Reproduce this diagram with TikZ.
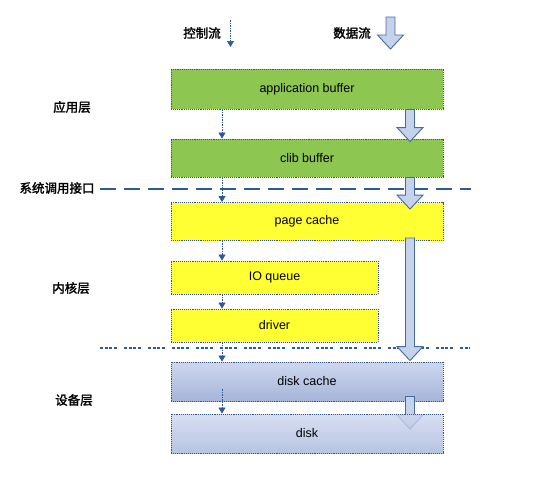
\documentclass[tikz,border=0pt]{standalone}
\usepackage{fontspec}
\setmainfont{Liberation Sans}
\newfontfamily\cjk{Noto Sans CJK SC}[AutoFakeBold=2]
\usetikzlibrary{arrows.meta,calc}
\definecolor{gboxfill}{RGB}{141,198,80}
\definecolor{yboxfill}{RGB}{255,255,51}
\definecolor{btop}{RGB}{206,215,239}
\definecolor{bbot}{RGB}{165,181,217}
\definecolor{boxline}{RGB}{52,86,135}
\definecolor{dfill}{RGB}{197,210,236}
\definecolor{dline}{RGB}{70,105,160}
\definecolor{ctrlc}{RGB}{45,90,150}
\tikzset{
  box/.style={draw=boxline, densely dotted, line width=0.9pt, inner sep=0pt,
    font=\fontsize{12.5}{14}\selectfont, text=black},
  gbox/.style={box, fill=gboxfill, minimum width=272pt},
  ybox/.style={box, fill=yboxfill},
  bbox/.style={box, top color=btop, bottom color=bbot, minimum width=272pt, minimum height=39pt},
  lay/.style={font=\cjk\bfseries\fontsize{12.5}{14}\selectfont},
  dflow/.style={fill=dfill, draw=dline, line width=0.9pt, line join=miter},
  ctrl/.style={draw=ctrlc, line width=0.7pt, dash pattern=on 1.5pt off 1pt,
    -{Triangle[width=7pt,length=6pt,fill=ctrlc]}},
  sepdash/.style={draw=ctrlc, line width=1.2pt, dash pattern=on 16pt off 8pt},
  sepdot/.style={draw=ctrlc, line width=1.1pt, dash pattern=on 3pt off 1.5pt on 3pt off 1.5pt on 3pt off 1.5pt on 3pt off 7.5pt},
}
\newcommand\dfarrow[2]{\path[dflow] let \p1=#1, \p2=#2 in
  (\x1-4.5pt,\y1) -- (\x1+4.5pt,\y1) -- (\x1+4.5pt,\y2+14pt) -- (\x1+13pt,\y2+14pt)
  -- (\x1,\y2) -- (\x1-13pt,\y2+14pt) -- (\x1-4.5pt,\y2+14pt) -- cycle;}
\begin{document}
\begin{tikzpicture}[x=1pt,y=-1pt]
\useasboundingbox (0,0) rectangle (540,480);
\coordinate (dx) at (410,0);
\coordinate (cx) at (222,0);
% layer separators
\coordinate (s1a) at (100,189); \coordinate (s1b) at (471,189);
\coordinate (s2a) at (100,348); \coordinate (s2b) at (470,348);
\draw[sepdash] (s1a) -- (s1b);
\draw[sepdot] (s2a) -- (s2b);
% boxes
\node[gbox, minimum height=40pt] (ab) at (307,89) {application buffer};
\node[gbox, minimum height=38pt] (cb) at (307,158) {clib buffer};
\node[ybox, minimum width=272pt, minimum height=38pt] (pc) at (307,221.5) {page cache};
\node[ybox, minimum width=207pt, minimum height=33pt] (io) at (274.5,277.5) {IO queue};
\node[ybox, minimum width=207pt, minimum height=33pt] (dr) at (274.5,325.5) {driver};
\node[bbox] (dc) at (307,381.5) {disk cache};
\coordinate (dktop) at (307,414);
\dfarrow{($(dc.south -| dx)+(0,-5)$)}{($(dktop -| dx)+(0,15)$)}
\node[bbox, fill opacity=0.8, text opacity=1] (dk) at (307,433.5) {disk};
% data flow arrows
\dfarrow{(ab.south -| dx)}{($(cb.north -| dx)+(0,3)$)}
\dfarrow{(cb.south -| dx)}{($(pc.north -| dx)+(0,7)$)}
\dfarrow{($(pc.south -| dx)+(0,-3)$)}{($(dc.north -| dx)+(0,-1)$)}
% control flow arrows
\draw[ctrl] (ab.south -| cx) -- (cb.north -| cx);
\draw[ctrl] (cb.south -| cx) -- (pc.north -| cx);
\draw[ctrl] (pc.south -| cx) -- (io.north -| cx);
\draw[ctrl] (io.south -| cx) -- (dr.north -| cx);
\draw[ctrl] (dr.south -| cx) -- (dc.north -| cx);
\draw[ctrl] ($(dc.south -| cx)+(0,-12)$) -- (dk.north -| cx);
% legend
\node[lay] (lc) at (202,33) {控制流};
\node[lay] (ld) at (352,33) {数据流};
\coordinate (lca) at (230.5,20); \coordinate (lcb) at (230.5,47);
\draw[ctrl] (lca) -- (lcb);
\coordinate (lda) at (390.5,17); \coordinate (ldb) at (390.5,49);
\dfarrow{(lda)}{(ldb)}
% layer labels
\node[lay] (l1) at (72,107) {应用层};
\node[lay] (l2) at (57,188) {系统调用接口};
\node[lay] (l3) at (71,288) {内核层};
\node[lay] (l4) at (74,400) {设备层};
\end{tikzpicture}
\end{document}
